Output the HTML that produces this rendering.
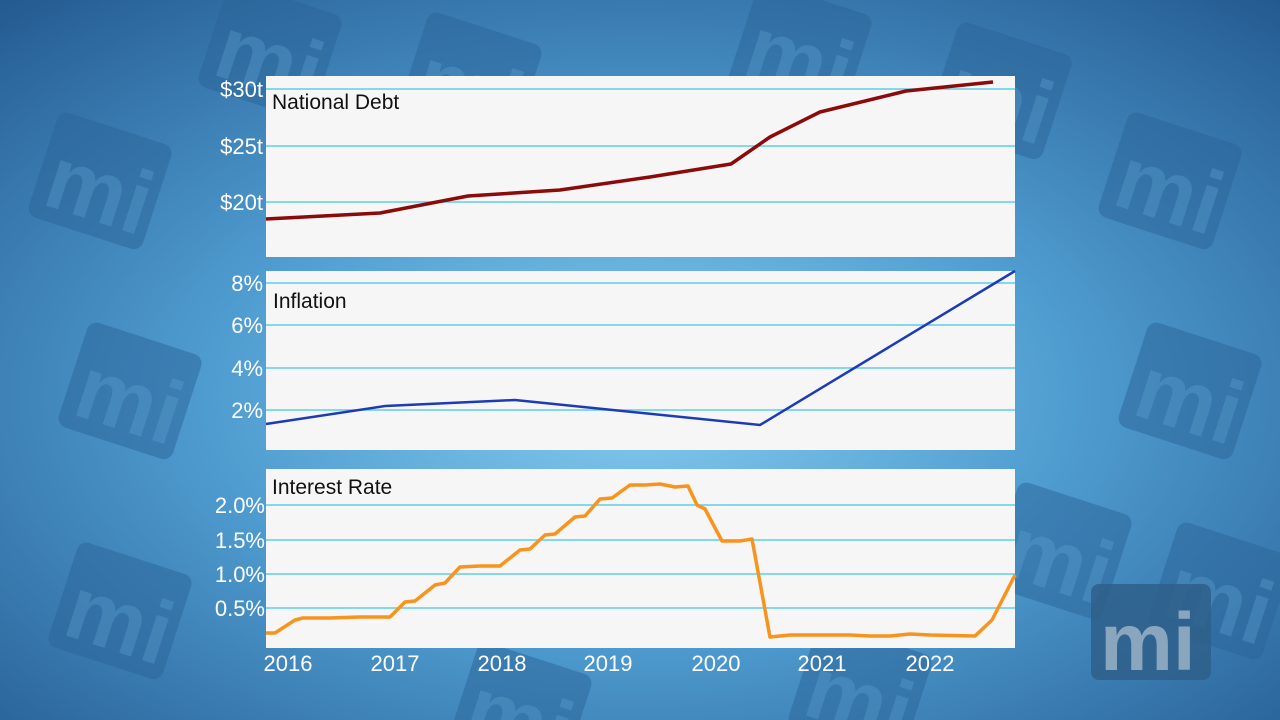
<!DOCTYPE html>
<html><head><meta charset="utf-8"><style>
html,body{margin:0;padding:0;width:1280px;height:720px;overflow:hidden}
svg{display:block;overflow:hidden}
text{font-family:"Liberation Sans","DejaVu Sans",sans-serif}
</style></head><body>
<svg width="1280" height="720" viewBox="0 0 1280 720" xmlns="http://www.w3.org/2000/svg">
<defs>
<radialGradient id="bg" cx="0.5" cy="0.55" r="0.75">
<stop offset="0" stop-color="#86cbee"/>
<stop offset="0.45" stop-color="#4f9cd0"/>
<stop offset="1" stop-color="#23598f"/>
</radialGradient>
<g id="logo"><rect x="0" y="0" width="120" height="110" rx="10" fill="#2a6498" opacity="0.5"/><text x="10" y="95" font-size="90" font-weight="bold" fill="#5fa3d3" opacity="0.35">mi</text></g>
</defs>
<rect width="1280" height="720" fill="url(#bg)"/>
<g>
<use href="#logo" transform="translate(60,110) rotate(18)"/>
<use href="#logo" transform="translate(90,320) rotate(18)"/>
<use href="#logo" transform="translate(80,540) rotate(18)"/>
<use href="#logo" transform="translate(230,-20) rotate(18)"/>
<use href="#logo" transform="translate(430,10) rotate(18)"/>
<use href="#logo" transform="translate(760,-20) rotate(18)"/>
<use href="#logo" transform="translate(960,20) rotate(18)"/>
<use href="#logo" transform="translate(1130,110) rotate(18)"/>
<use href="#logo" transform="translate(1150,320) rotate(18)"/>
<use href="#logo" transform="translate(1020,480) rotate(18)"/>
<use href="#logo" transform="translate(1180,520) rotate(18)"/>
<use href="#logo" transform="translate(480,640) rotate(18)"/>
<use href="#logo" transform="translate(820,620) rotate(18)"/>
</g>
<rect x="1091" y="584" width="120" height="96" rx="8" fill="#2f5f8a" opacity="0.85"/>
<text x="1100" y="670" font-size="82" font-weight="bold" fill="#8aa6bf">mi</text>

<rect x="266" y="76" width="749" height="181" fill="#f6f6f6"/>
<rect x="266" y="271" width="749" height="179" fill="#f6f6f6"/>
<rect x="266" y="469" width="749" height="179" fill="#f6f6f6"/>

<g stroke="#5fcde8" stroke-width="1.5">
<line x1="266" y1="89" x2="1015" y2="89"/><line x1="266" y1="146" x2="1015" y2="146"/><line x1="266" y1="202" x2="1015" y2="202"/>
<line x1="266" y1="283" x2="1015" y2="283"/><line x1="266" y1="325" x2="1015" y2="325"/><line x1="266" y1="368" x2="1015" y2="368"/><line x1="266" y1="410" x2="1015" y2="410"/>
<line x1="266" y1="505" x2="1015" y2="505"/><line x1="266" y1="540" x2="1015" y2="540"/><line x1="266" y1="574" x2="1015" y2="574"/><line x1="266" y1="608" x2="1015" y2="608"/>
</g>

<g font-size="22" fill="#ffffff" text-anchor="end">
<text x="263" y="97">$30t</text><text x="263" y="154">$25t</text><text x="263" y="210">$20t</text>
<text x="263" y="291">8%</text><text x="263" y="333">6%</text><text x="263" y="376">4%</text><text x="263" y="418">2%</text>
<text x="265" y="513">2.0%</text><text x="265" y="548">1.5%</text><text x="265" y="582">1.0%</text><text x="265" y="616">0.5%</text>
</g>
<g font-size="22" fill="#ffffff" text-anchor="middle">
<text x="288" y="671">2016</text><text x="395" y="671">2017</text><text x="502" y="671">2018</text><text x="608" y="671">2019</text><text x="716" y="671">2020</text><text x="822" y="671">2021</text><text x="930" y="671">2022</text>
</g>
<g font-size="21" fill="#111">
<text x="272" y="109">National Debt</text>
<text x="273" y="308">Inflation</text>
<text x="272" y="494">Interest Rate</text>
</g>

<polyline fill="none" stroke="#8b0a0a" stroke-width="3.5" stroke-linejoin="round"
points="266,219 380,213 468,196 560,190 650,177 731,164 770,137 820,112 906,91 993,82"/>
<polyline fill="none" stroke="#1c3bb5" stroke-width="2.5"
points="266,424 385,406 515,400 760,425 1015,271"/>
<polyline fill="none" stroke="#f7941d" stroke-width="3.5" stroke-linejoin="round"
points="266,633 275,633 295,620 303,618 330,618 360,617 390,617 405,602 415,601 435,585 445,583 460,567 480,566 500,566 520,550 530,549 545,535 555,534 575,517 585,516 600,499 612,498 630,485 645,485 660,484 675,487 688,486 697,505 705,509 722,541 740,541 752,539 770,637 780,636 790,635 810,635 850,635 870,636 890,636 910,634 930,635 975,636 992,620 1015,575"/>
</svg>
</body></html>
